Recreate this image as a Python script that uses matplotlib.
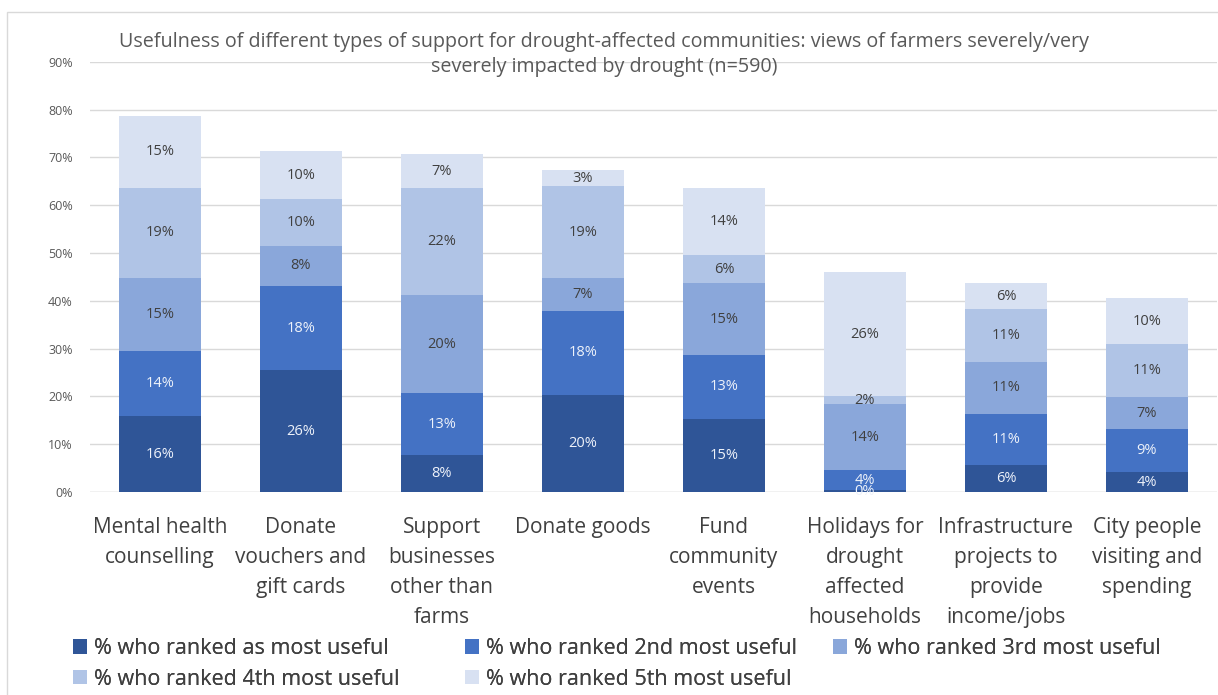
import numpy as np
import matplotlib.pyplot as plt
from matplotlib.patches import Rectangle, Patch

plt.rcParams['font.family'] = ['Open Sans', 'DejaVu Sans']

categories = ["Mental health\ncounselling", "Donate\nvouchers and\ngift cards",
              "Support\nbusinesses\nother than\nfarms", "Donate goods",
              "Fund\ncommunity\nevents", "Holidays for\ndrought\naffected\nhouseholds",
              "Infrastructure\nprojects to\nprovide\nincome/jobs", "City people\nvisiting and\nspending"]

series_names = ["% who ranked as most useful", "% who ranked 2nd most useful",
                "% who ranked 3rd most useful", "% who ranked 4th most useful",
                "% who ranked 5th most useful"]

most = [15.9, 25.5, 7.7, 20.3, 15.3, 0.4, 5.6, 4.2]
second = [13.6, 17.6, 13.0, 17.6, 13.4, 4.2, 10.8, 9.0]
third = [15.3, 8.4, 20.5, 6.9, 15.0, 13.8, 10.9, 6.6]
fourth = [18.8, 9.8, 22.4, 19.2, 5.9, 1.7, 10.9, 11.1]
fifth = [15.1, 10.0, 7.1, 3.4, 14.0, 25.9, 5.6, 9.6]

colors = ["#2f5597", "#4472c4", "#8aa7da", "#b0c4e6", "#d8e1f2"]
label_colors = ["#eef2fa", "#eef2fa", "#404040", "#404040", "#404040"]

fig = plt.figure(figsize=(12.18, 6.95), dpi=100)
ax = fig.add_axes([0.0735, 0.292, 0.926, 0.619])

x = np.arange(len(categories))
bottom = np.zeros(len(categories))
for vals, name, c, lc in zip([most, second, third, fourth, fifth], series_names, colors, label_colors):
    vals = np.array(vals)
    ax.bar(x, vals, 0.58, bottom=bottom, color=c, label=name, zorder=2)
    for xi, b, v in zip(x, bottom, vals):
        ax.text(xi, b + v / 2, "%d%%" % round(v), ha='center', va='center',
                fontsize=10.5, color=lc, zorder=3)
    bottom += vals

ax.set_xlim(-0.5, len(categories) - 0.5)
ax.set_ylim(0, 90)
ax.set_yticks(np.arange(0, 91, 10))
ax.set_yticklabels(["%d%%" % t for t in range(0, 91, 10)], fontsize=9, color="#595959")
ax.yaxis.grid(True, color="#d9d9d9", linewidth=1, zorder=0)
for s in ax.spines.values():
    s.set_visible(False)
ax.axhline(0, color="#d9d9d9", linewidth=1, zorder=1)
ax.tick_params(axis='y', length=0, pad=12)
ax.tick_params(axis='x', length=0, pad=18)
ax.set_xticks(x)
ax.set_xticklabels(categories, fontsize=15, color="#404040", linespacing=1.56, va='top')

fig.text(0.496, 0.922, "Usefulness of different types of support for drought-affected communities: views of farmers severely/very\nseverely impacted by drought (n=590)",
         ha='center', va='center', fontsize=14.2, color="#595959", linespacing=1.35)

# legend laid out row-wise like the original, one column per legend box
handles = [Patch(facecolor=c, edgecolor='none') for c in colors]
columns = [([0, 3], 0.060), ([1, 4], 0.382), ([2], 0.684)]
for idx, xpos in columns:
    leg = fig.legend([handles[i] for i in idx], [series_names[i] for i in idx],
                     loc='upper left', bbox_to_anchor=(xpos, 0.082), frameon=False,
                     fontsize=15.5, labelcolor="#404040", handlelength=0.65,
                     handleheight=0.65, handletextpad=0.3, borderpad=0,
                     borderaxespad=0, labelspacing=0.45)
    fig.add_artist(leg)

fig.patches.append(Rectangle((0.006, -0.01), 1.0, 0.993, transform=fig.transFigure,
                             fill=False, edgecolor="#d9d9d9", linewidth=1))

fig.savefig("out.png", dpi=100)
